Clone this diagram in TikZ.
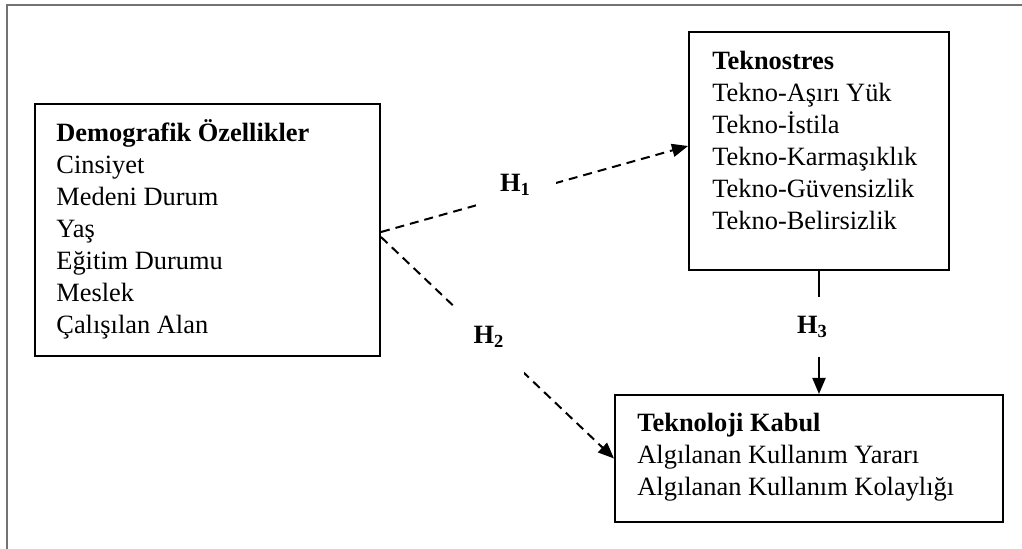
\documentclass[tikz,border=0pt]{standalone}
\usepackage{fontspec}
\setmainfont{Liberation Serif}
\usetikzlibrary{arrows.meta}
\begin{document}
\begin{tikzpicture}[x=0.5pt,y=-0.5pt,
  box/.style={draw, line width=1pt, inner sep=0pt, rectangle},
  txt/.style={anchor=base west, align=left, inner sep=0pt, font=\fontsize{13.2}{15.95}\selectfont},
  dasharrow/.style={line width=1pt, dash pattern=on 4.5pt off 3pt, -{Triangle[length=8pt,width=6.5pt]}},
  solidarrow/.style={line width=1pt, -{Triangle[length=8pt,width=6.5pt]}},
  hlab/.style={fill=white, inner sep=0pt, anchor=base, font=\fontsize{13.2}{15.95}\selectfont\bfseries},
  frame/.style={draw=black!55, line width=0.8pt}]

\useasboundingbox (0,0) rectangle (1022,549);
\draw[frame] (1022,5) -- (7,5) -- (7,549);

% boxes
\node[box, minimum width=172.5pt, minimum height=126pt] (demo) at (207.5,230) {};
\node[box, minimum width=130pt, minimum height=118.8pt] (tekno) at (819,150.8) {};
\node[box, minimum width=194pt, minimum height=63.5pt] (kabul) at (809,458.5) {};

% texts (anchored at the baseline of their last line)
\node[txt] (demotext) at (56,333.3) {\textbf{Demografik Özellikler}\\Cinsiyet\\Medeni Durum\\Yaş\\Eğitim Durumu\\Meslek\\Çalışılan Alan};
\node[txt] (teknotext) at (712,229.1) {\textbf{Teknostres}\\Tekno-Aşırı Yük\\Tekno-İstila\\Tekno-Karmaşıklık\\Tekno-Güvensizlik\\Tekno-Belirsizlik};
\node[txt] (kabultext) at (637,495.8) {\textbf{Teknoloji Kabul}\\Algılanan Kullanım Yararı\\Algılanan Kullanım Kolaylığı};

% connectors
\draw[dasharrow] ([yshift=-1pt]demo.east) -- ([yshift=2.4pt]tekno.west);
\draw[dasharrow] ([yshift=-3.5pt]demo.east) -- (kabul.west);
\draw[solidarrow] (tekno.south) -- (tekno.south |- kabul.north);

% labels
\node[hlab, minimum width=40pt, minimum height=25pt] (h1) at (515.5,192) {H\textsubscript{1}};
\node[hlab, minimum width=35pt, minimum height=38pt] (h2) at (489,344) {H\textsubscript{2}};
\node[hlab, minimum width=17pt, minimum height=30pt] (h3) at (812.5,334) {H\textsubscript{3}};
\end{tikzpicture}
\end{document}
